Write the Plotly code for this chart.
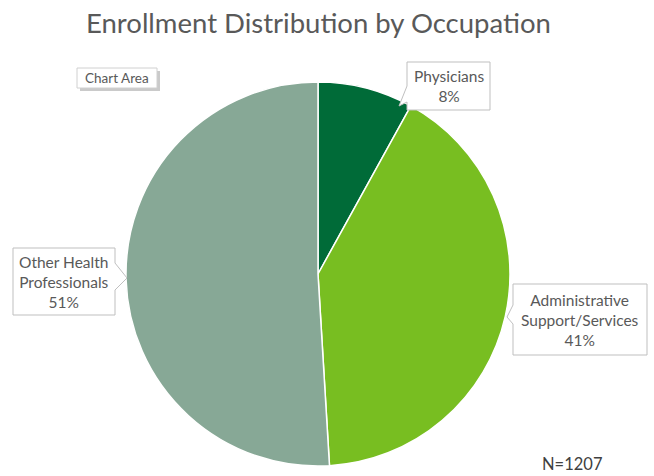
import plotly.graph_objects as go

W, H = 654, 476

categories = ["Physicians", "Administrative Support/Services", "Other Health Professionals"]
counts = [97, 495, 615]
colors = ["#006B38", "#78BE21", "#87A896"]
label_texts = ["Physicians<br>8%", "Administrative<br>Support/Services<br>41%", "Other Health<br>Professionals<br>51%"]
title_text = "Enrollment Distribution by Occupation"
n_text = "N=1207"

def px(x):
    return x / W

def py(y):
    return 1 - y / H

cx, cy, r = 318, 274, 192

fig = go.Figure(go.Pie(
    labels=categories,
    values=counts,
    marker=dict(colors=colors, line=dict(color="white", width=1.5)),
    sort=False,
    direction="clockwise",
    rotation=0,
    textinfo="none",
    hoverinfo="label+percent",
    showlegend=False,
    domain=dict(x=[px(cx - r), px(cx + r)], y=[py(cy + r), py(cy - r)]),
))

def path(points):
    return "M " + " L ".join(f"{px(x)},{py(y)}" for x, y in points) + " Z"

callouts = [
    # Physicians
    [(407, 62), (490, 62), (490, 110), (407, 110), (407, 102), (399, 106), (407, 86)],
    # Administrative
    [(513, 284), (647, 284), (647, 355), (513, 355), (513, 324), (507, 317), (513, 305)],
    # Other
    [(13, 248), (115, 248), (115, 263), (127, 278), (115, 290), (115, 315), (13, 315)],
]

shapes = []
for pts in callouts:
    shapes.append(dict(type="path", xref="paper", yref="paper", path=path(pts),
                       fillcolor="white", line=dict(color="#BFBFBF", width=1), layer="above"))

# Chart Area tooltip with shadow
shapes.append(dict(type="rect", xref="paper", yref="paper",
                   x0=px(80), x1=px(160), y0=py(91), y1=py(71),
                   fillcolor="#A6A6A6", line=dict(width=0), layer="above", opacity=0.6))
shapes.append(dict(type="rect", xref="paper", yref="paper",
                   x0=px(77), x1=px(157), y0=py(88), y1=py(68),
                   fillcolor="white", line=dict(color="#D0D0D0", width=1), layer="above"))

font_family = "Lato, Open Sans, sans-serif"
label_pos = [(448.5, 86), (580, 319.5), (64, 281.5)]
annotations = []
for (x, y), t in zip(label_pos, label_texts):
    annotations.append(dict(x=px(x), y=py(y), xref="paper", yref="paper", text=t,
                            showarrow=False, xanchor="center", yanchor="middle", align="center",
                            font=dict(family=font_family, size=15.5, color="#595959")))

annotations.append(dict(x=px(117), y=py(78), xref="paper", yref="paper", text="Chart Area",
                        showarrow=False, xanchor="center", yanchor="middle",
                        font=dict(family=font_family, size=13.5, color="#595959")))
annotations.append(dict(x=px(540), y=py(464), xref="paper", yref="paper", text=n_text,
                        showarrow=False, xanchor="left", yanchor="middle",
                        font=dict(family=font_family, size=16.5, color="#404040")))
annotations.append(dict(x=px(318), y=py(22), xref="paper", yref="paper", text=title_text,
                        showarrow=False, xanchor="center", yanchor="middle",
                        font=dict(family=font_family, size=27.5, color="#595959")))

fig.update_layout(
    width=W, height=H,
    margin=dict(l=0, r=0, t=0, b=0),
    paper_bgcolor="white", plot_bgcolor="white",
    shapes=shapes, annotations=annotations,
)

fig.write_html("out.html")
